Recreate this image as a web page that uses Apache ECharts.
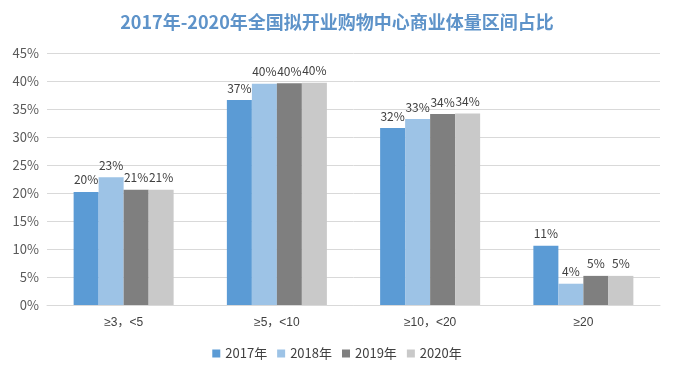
<!DOCTYPE html>
<html>
<head>
<meta charset="utf-8">
<script src="https://cdn.jsdelivr.net/npm/echarts@6/dist/echarts.min.js"></script>
<style>
  html, body { margin: 0; padding: 0; background: #fff; }
  #chart { width: 674px; height: 376px; }
</style>
</head>
<body>
<div id="chart"></div>
<script>
  var categories = ["≥3，<5", "≥5，<10", "≥10，<20", "≥20"];
  var years = ["2017年", "2018年", "2019年", "2020年"];
  var share2017 = [20.2, 36.6, 31.6, 10.6];
  var share2018 = [22.8, 39.5, 33.2, 3.8];
  var share2019 = [20.6, 39.6, 34.1, 5.2];
  var share2020 = [20.6, 39.7, 34.2, 5.2];
  var yTicks = [0, 5, 10, 15, 20, 25, 30, 35, 40, 45];

  var colors = ["#5B9BD5", "#9DC3E6", "#7F7F7F", "#C9C9C9"];
  var font = '"Microsoft YaHei", "Noto Sans CJK SC", sans-serif';
  var latinFont = '"Liberation Sans", "Noto Sans CJK SC", sans-serif';

  function bar(name, data, color) {
    return {
      name: name,
      type: "bar",
      data: data,
      barWidth: 25,
      barGap: "0%",
      itemStyle: { color: color },
      label: {
        show: true,
        position: "top",
        distance: 6,
        color: "#404040",
        fontSize: 12,
        fontFamily: font,
        formatter: function (p) { return Math.round(p.value) + "%"; }
      }
    };
  }

  var chart = echarts.init(document.getElementById("chart"));
  chart.setOption({
    animation: false,
    title: {
      text: "2017年-2020年全国拟开业购物中心商业体量区间占比",
      left: "center",
      top: 8,
      textStyle: { color: "#5E93C9", fontSize: 18, fontWeight: "bold", fontFamily: font }
    },
    legend: {
      data: years,
      bottom: 11,
      left: "center",
      itemWidth: 8,
      itemHeight: 8,
      itemGap: 10,
      icon: "rect",
      textStyle: { color: "#404040", fontSize: 13, fontFamily: font }
    },
    grid: { left: 47, right: 14, top: 53, bottom: 71 },
    xAxis: {
      type: "category",
      data: categories,
      axisTick: { show: false },
      axisLine: { lineStyle: { color: "#D9D9D9" } },
      axisLabel: { color: "#404040", fontSize: 12, margin: 12, fontFamily: latinFont }
    },
    yAxis: {
      type: "value",
      min: yTicks[0],
      max: yTicks[yTicks.length - 1],
      interval: 5,
      axisLine: { show: false },
      axisTick: { show: false },
      splitLine: { lineStyle: { color: "#D9D9D9" } },
      axisLabel: { color: "#595959", fontSize: 13, margin: 8, fontFamily: font, formatter: "{value}%" }
    },
    series: [
      bar(years[0], share2017, colors[0]),
      bar(years[1], share2018, colors[1]),
      bar(years[2], share2019, colors[2]),
      bar(years[3], share2020, colors[3])
    ]
  });
</script>
</body>
</html>
